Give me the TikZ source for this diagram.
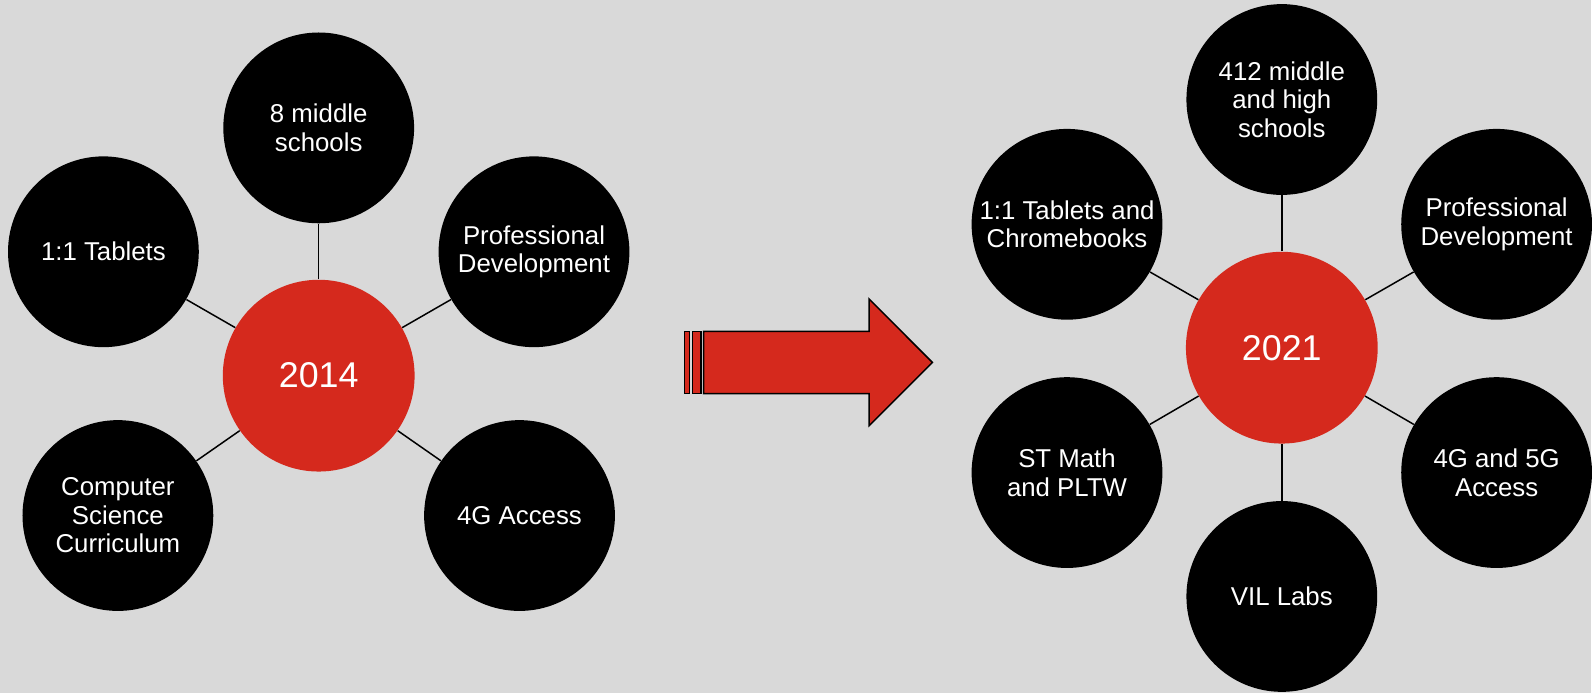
\documentclass[tikz,border=0pt]{standalone}
\usepackage{fontspec}
\setmainfont{Liberation Sans}
\definecolor{bggray}{RGB}{217,217,217}
\definecolor{hubred}{RGB}{213,41,29}
\begin{document}
\begin{tikzpicture}[x=0.02cm,y=-0.02cm,
    spoke/.style={circle,fill=black,text=white,minimum size=3.82cm,inner sep=0pt,
      align=center,font=\fontsize{14.7}{16.2}\selectfont},
    hub/.style={circle,fill=hubred,text=white,minimum size=3.84cm,inner sep=0pt,
      font=\fontsize{20.4}{24}\selectfont},
    link/.style={draw=black,line width=0.85pt}]
  \fill[bggray] (0,0) rectangle (1592,694);
  % 2014
  \node[hub] (Y14) at (319,376) {2014};
  \node[spoke] (MS) at (319,128) {8 middle\\schools};
  \node[spoke] (TB) at (103.5,252) {1:1 Tablets};
  \node[spoke] (PD) at (534.5,252) {Professional\\Development};
  \node[spoke] (CS) at (118,516) {Computer\\Science\\Curriculum};
  \node[spoke] (G4) at (520,516) {4G Access};
  \draw[link] (Y14) -- (MS);
  \draw[link] (Y14) -- (TB);
  \draw[link] (Y14) -- (PD);
  \draw[link] (Y14) -- (CS);
  \draw[link] (Y14) -- (G4);
  % arrow
  \filldraw[fill=hubred,draw=black,line width=0.85pt]
    (685,331.7) rectangle (690,394);
  \filldraw[fill=hubred,draw=black,line width=0.85pt]
    (693.3,331.7) rectangle (701.7,394);
  \filldraw[fill=hubred,draw=black,line width=0.85pt]
    (704.3,331.7) -- (870,331.7) -- (870,299.3) -- (933.3,362.8)
    -- (870,426) -- (870,394) -- (704.3,394) -- cycle;
  % 2021
  \node[hub] (Y21) at (1283,348) {2021};
  \node[spoke] (HS) at (1283,99.6) {412 middle\\and high\\schools};
  \node[spoke] (CB) at (1068,224.5) {1:1 Tablets and\\Chromebooks};
  \node[spoke] (PD2) at (1498,224.5) {Professional\\Development};
  \node[spoke] (ST) at (1068,473) {ST Math\\and PLTW};
  \node[spoke] (G5) at (1498,473) {4G and 5G\\Access};
  \node[spoke] (VL) at (1283,597) {VIL Labs};
  \draw[link] (Y21) -- (HS);
  \draw[link] (Y21) -- (CB);
  \draw[link] (Y21) -- (PD2);
  \draw[link] (Y21) -- (ST);
  \draw[link] (Y21) -- (G5);
  \draw[link] (Y21) -- (VL);
\end{tikzpicture}
\end{document}
